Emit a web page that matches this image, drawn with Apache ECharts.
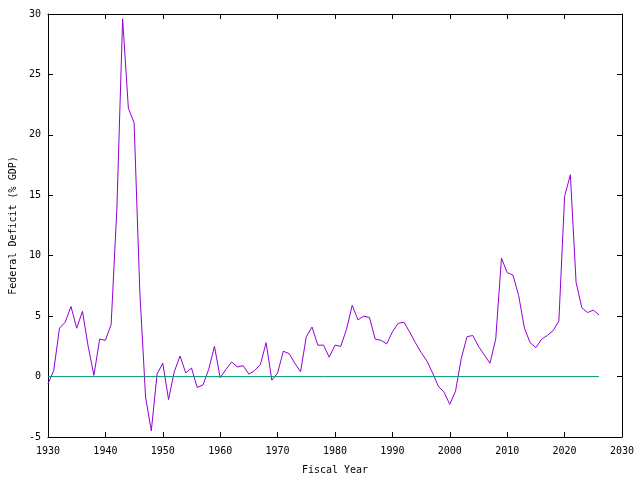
<!DOCTYPE html>
<html>
<head>
<meta charset="utf-8">
<script src="https://cdn.jsdelivr.net/npm/echarts@6/dist/echarts.min.js"></script>
<style>
html,body{margin:0;padding:0;background:#fff;}
#chart{width:640px;height:480px;}
</style>
</head>
<body>
<div id="chart"></div>
<script>
const years = [
  1930,1931,1932,1933,1934,1935,1936,1937,1938,1939,
  1940,1941,1942,1943,1944,1945,1946,1947,1948,1949,
  1950,1951,1952,1953,1954,1955,1956,1957,1958,1959,
  1960,1961,1962,1963,1964,1965,1966,1967,1968,1969,
  1970,1971,1972,1973,1974,1975,1976,1977,1978,1979,
  1980,1981,1982,1983,1984,1985,1986,1987,1988,1989,
  1990,1991,1992,1993,1994,1995,1996,1997,1998,1999,
  2000,2001,2002,2003,2004,2005,2006,2007,2008,2009,
  2010,2011,2012,2013,2014,2015,2016,2017,2018,2019,
  2020,2021,2022,2023,2024,2025,2026
];
const deficitPctGDP = [
  -0.6, 0.5, 4.0, 4.5, 5.8, 4.0, 5.4, 2.5, 0.1, 3.1,
  3.0, 4.3, 13.9, 29.6, 22.2, 21.0, 7.0, -1.7, -4.5, 0.2,
  1.1, -1.9, 0.4, 1.7, 0.3, 0.7, -0.9, -0.7, 0.6, 2.5,
  -0.1, 0.6, 1.2, 0.8, 0.9, 0.2, 0.5, 1.0, 2.8, -0.3,
  0.3, 2.1, 1.9, 1.1, 0.4, 3.3, 4.1, 2.6, 2.6, 1.6,
  2.6, 2.5, 3.9, 5.9, 4.7, 5.0, 4.9, 3.1, 3.0, 2.7,
  3.7, 4.4, 4.5, 3.7, 2.8, 2.0, 1.3, 0.3, -0.8, -1.3,
  -2.3, -1.2, 1.5, 3.3, 3.4, 2.5, 1.8, 1.1, 3.1, 9.8,
  8.6, 8.4, 6.7, 4.0, 2.8, 2.4, 3.1, 3.4, 3.8, 4.6,
  14.9, 16.7, 7.8, 5.7, 5.3, 5.5, 5.1
];
const zeroLineYears = [1930, 2026];
const zeroLineValues = [0, 0];

const xTicks = {min: 1930, max: 2030, interval: 10};
const yTicks = {min: -5, max: 30, interval: 5};

const FONT = 'DejaVu Sans Mono';

const chart = echarts.init(document.getElementById('chart'), null, {renderer: 'canvas'});
const axisLine = {show: true, onZero: false, lineStyle: {color: '#000', width: 1}};
const tick = {show: true, inside: true, length: 5, lineStyle: {color: '#000', width: 1}};

chart.setOption({
  animation: false,
  backgroundColor: '#fff',
  grid: {left: 47, right: 18, top: 14, bottom: 42, containLabel: false},
  xAxis: [
    {
      type: 'value', position: 'bottom',
      min: xTicks.min, max: xTicks.max, interval: xTicks.interval,
      name: 'Fiscal Year', nameLocation: 'middle', nameGap: 28,
      nameTextStyle: {fontFamily: FONT, fontSize: 10, color: '#000'},
      axisLine: axisLine, axisTick: tick,
      axisLabel: {fontFamily: FONT, fontSize: 10, color: '#000', margin: 9,
        formatter: v => String(v)},
      splitLine: {show: false}
    },
    {
      type: 'value', position: 'top',
      min: xTicks.min, max: xTicks.max, interval: xTicks.interval,
      axisLine: axisLine, axisTick: tick,
      axisLabel: {show: false}, splitLine: {show: false}
    }
  ],
  yAxis: [
    {
      type: 'value', position: 'left',
      min: yTicks.min, max: yTicks.max, interval: yTicks.interval,
      name: 'Federal Deficit (% GDP)', nameLocation: 'middle', nameGap: 30,
      nameRotate: 90,
      nameTextStyle: {fontFamily: FONT, fontSize: 10, color: '#000'},
      axisLine: axisLine, axisTick: tick,
      axisLabel: {fontFamily: FONT, fontSize: 10, color: '#000', margin: 7},
      splitLine: {show: false}
    },
    {
      type: 'value', position: 'right',
      min: yTicks.min, max: yTicks.max, interval: yTicks.interval,
      axisLine: axisLine, axisTick: tick,
      axisLabel: {show: false}, splitLine: {show: false}
    }
  ],
  series: [
    {
      type: 'line', xAxisIndex: 0, yAxisIndex: 0,
      data: years.map((y, i) => [y, deficitPctGDP[i]]),
      showSymbol: false, symbol: 'none',
      lineStyle: {color: '#9400d3', width: 1},
      itemStyle: {color: '#9400d3'},
      z: 2
    },
    {
      type: 'line', xAxisIndex: 0, yAxisIndex: 0,
      data: zeroLineYears.map((y, i) => [y, zeroLineValues[i]]),
      showSymbol: false, symbol: 'none',
      lineStyle: {color: '#009e73', width: 1},
      itemStyle: {color: '#009e73'},
      z: 3
    }
  ]
});
</script>
</body>
</html>
